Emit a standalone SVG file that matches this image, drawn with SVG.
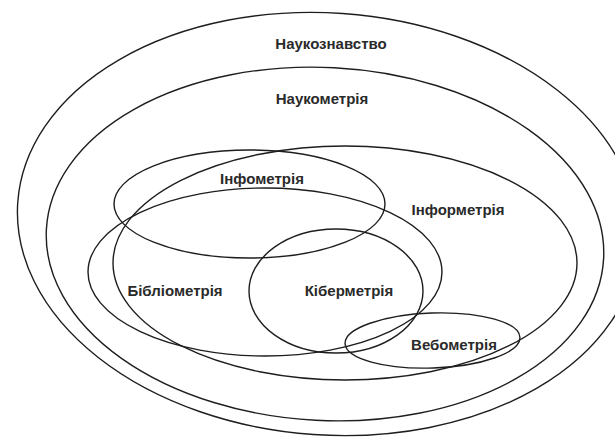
<svg xmlns="http://www.w3.org/2000/svg" width="615" height="438" viewBox="0 0 615 438">
<style>
.e{fill:none;stroke:#1e1e1e;stroke-width:1.4}
.t{font-family:"Liberation Sans",Arial,sans-serif;font-weight:bold;font-size:15px;fill:#2a2a2a;text-anchor:middle}
</style>
<rect width="615" height="438" fill="#fff"/>
<g id="naukoznavstvo"><ellipse class="e" cx="328" cy="224" rx="311" ry="211" transform="rotate(4 328 224)"/><text class="t" x="331" y="49">Наукознавство</text></g>
<g id="naukometriya"><ellipse class="e" cx="325" cy="244" rx="279" ry="176.5" transform="rotate(3 325 244)"/><text class="t" x="322" y="104">Наукометрія</text></g>
<g id="informetriya"><ellipse class="e" cx="345" cy="263" rx="232" ry="117"/><text class="t" x="458" y="215">Інформетрія</text></g>
<g id="infometriya"><ellipse class="e" cx="249.5" cy="204" rx="135.5" ry="54"/><text class="t" x="262" y="184">Інфометрія</text></g>
<g id="bibliometriya"><ellipse class="e" cx="265" cy="272" rx="177" ry="84"/><text class="t" x="175" y="296">Бібліометрія</text></g>
<g id="kibermetriya"><ellipse class="e" cx="336" cy="291" rx="87" ry="62"/><text class="t" x="349" y="296">Кіберметрія</text></g>
<g id="vebometriya"><ellipse class="e" cx="432.5" cy="340.5" rx="87.5" ry="27.5" transform="rotate(-2 432.5 340.5)"/><text class="t" x="454" y="350">Вебометрія</text></g>
<g id="connectors"/>
</svg>
